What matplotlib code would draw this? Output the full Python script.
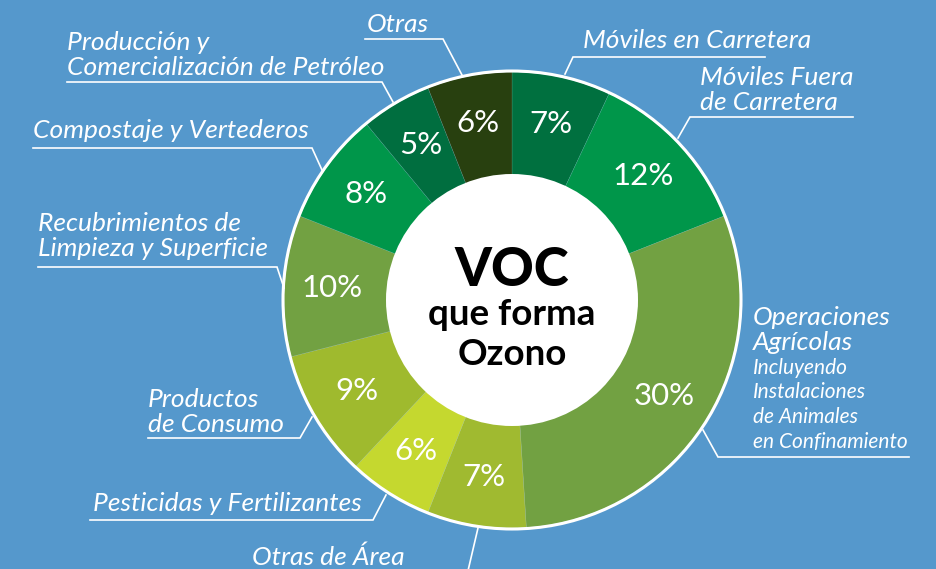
import numpy as np
import matplotlib
matplotlib.use("Agg")
import matplotlib.pyplot as plt
from matplotlib.patches import Circle

# data, clockwise from 12 o'clock
sources = ["Móviles en Carretera", "Móviles Fuera de Carretera", "Operaciones Agrícolas",
           "Otras de Área", "Pesticidas y Fertilizantes", "Productos de Consumo",
           "Recubrimientos de Limpieza y Superficie", "Compostaje y Vertederos",
           "Producción y Comercialización de Petróleo", "Otras"]
shares = [7, 12, 30, 7, 6, 9, 10, 8, 5, 6]
colors = ["#00703f", "#00964a", "#72a142", "#a0ba30", "#c5d82f",
          "#9fba2e", "#72a142", "#00964a", "#006e3f", "#28400f"]

# label text as shown (line breaks), x / last baseline, underline, leader end
label_text = ["Móviles en Carretera", "Móviles Fuera\nde Carretera", None,
              "Otras de Área", "Pesticidas y Fertilizantes", "Productos\nde Consumo",
              "Recubrimientos de\nLimpieza y Superficie", "Compostaje y Vertederos",
              "Producción y\nComercialización de Petróleo", "Otras"]
label_pos = [(583, 48), (700, 110), None, (252, 565), (93, 511), (148, 432),
             (38, 256), (33, 138), (67, 75), (367, 32)]
leaders = [((765, 57), (573, 57), (565, 74)),
           ((853, 117), (690, 117), (678, 138)),
           ((909, 457), (718, 457), (703, 430)),
           ((250, 575), (467, 575), (478, 528)),
           ((90, 520), (373, 520), (386, 495)),
           ((148, 438), (300, 438), (312, 417)),
           ((38, 267), (277, 267), (284, 288)),
           ((33, 148), (312, 148), (322, 170)),
           ((67, 82), (382, 82), (393, 102)),
           ((365, 39), (443, 39), (462, 75))]

bg = "#5598cc"
cx, cy = 512, 300
r_out, r_in = 228, 125

fig = plt.figure(figsize=(9.37, 5.69), dpi=100, facecolor=bg)
ax = fig.add_axes([0, 0, 1, 1])

# y axis is flipped, so counterclock=True draws clockwise on screen
wedges, _ = ax.pie(shares, colors=colors, startangle=-90, counterclock=True,
                   center=(cx, cy), radius=r_out, frame=True,
                   wedgeprops=dict(width=r_out - r_in, linewidth=0.3, edgecolor="#ffffff40"))
ax.set_xlim(0, 937)
ax.set_ylim(569, 0)   # pixel coords, y down
ax.set_aspect("equal")
ax.axis("off")

ax.add_patch(Circle((cx, cy), r_out + 1, fill=False, ec="white", lw=2.2, zorder=3))
ax.add_patch(Circle((cx, cy), r_in + 1, fc="white", ec="none", zorder=3))

# percent labels
for w, s in zip(wedges, shares):
    ang = np.deg2rad((w.theta1 + w.theta2) / 2)
    x = cx + 180 * np.cos(ang)
    y = cy - 3 + 180 * np.sin(ang)
    ax.text(x, y, f"{s}%", color="white", fontsize=22.5, family="Lato",
            ha="center", va="center_baseline", zorder=4)

# center title
ax.text(cx, 286, "VOC", fontsize=38, family="Lato", weight="black", ha="center",
        va="baseline", zorder=4, color="black")
ax.text(cx, 325, "que forma", fontsize=26.5, family="Lato", weight="bold", ha="center",
        va="baseline", zorder=4, color="black")
ax.text(cx, 365, "Ozono", fontsize=26.5, family="Lato", weight="bold", ha="center",
        va="baseline", zorder=4, color="black")

# category labels
for txt, pos in zip(label_text, label_pos):
    if txt is None:
        continue
    ax.text(pos[0], pos[1], txt, color="white", fontsize=19, family="Lato",
            style="italic", ha="left", va="baseline", linespacing=1.1, zorder=4)

# agricultural label has two sizes
ax.text(753, 350, "Operaciones\nAgrícolas", color="white", fontsize=19, family="Lato",
        style="italic", ha="left", va="baseline", linespacing=1.1, zorder=4)
ax.text(753, 448, "Incluyendo\nInstalaciones\nde Animales\nen Confinamiento", color="white",
        fontsize=15, family="Lato", style="italic", ha="left", va="baseline",
        linespacing=1.3, zorder=4)

for a, b, c in leaders:
    ax.plot([a[0], b[0], c[0]], [a[1], b[1], c[1]], color="white", lw=1.2,
            solid_joinstyle="miter", zorder=2, clip_on=False)

fig.savefig("out.png", dpi=100, facecolor=bg)
